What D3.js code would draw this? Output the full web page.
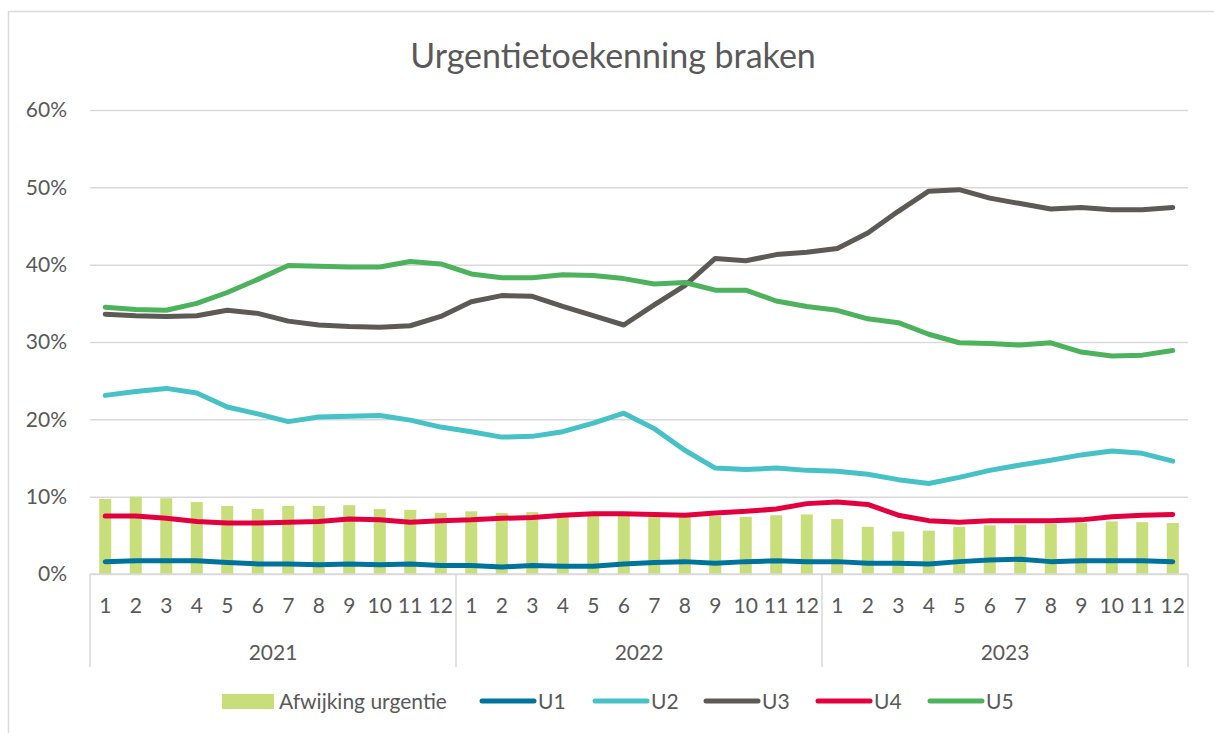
<!DOCTYPE html>
<html>
<head>
<meta charset="utf-8">
<script src="https://cdn.jsdelivr.net/npm/d3@7"></script>
<style>
  body { margin: 0; background: #fff; }
  svg text { font-family: Lato, "Open Sans", sans-serif; fill: #595959; }
</style>
</head>
<body>
<div id="chart"></div>
<script>

// data
var years = ["2021", "2022", "2023"];
var months = ["1","2","3","4","5","6","7","8","9","10","11","12"];
var yTicks = [0, 0.1, 0.2, 0.3, 0.4, 0.5, 0.6];

var afwijking = [9.7, 10.0, 9.8, 9.3, 8.8, 8.4, 8.8, 8.8, 8.9, 8.4, 8.3, 7.9,
                 8.1, 7.9, 8.0, 7.6, 7.6, 7.6, 7.6, 7.5, 7.5, 7.4, 7.6, 7.7,
                 7.1, 6.1, 5.5, 5.6, 6.1, 6.3, 6.4, 6.5, 6.6, 6.8, 6.7, 6.6];
var u1 = [1.6, 1.7, 1.7, 1.7, 1.5, 1.3, 1.3, 1.2, 1.3, 1.2, 1.3, 1.1,
          1.1, 0.9, 1.1, 1.0, 1.0, 1.3, 1.5, 1.6, 1.4, 1.6, 1.7, 1.6,
          1.6, 1.4, 1.4, 1.3, 1.6, 1.8, 1.9, 1.6, 1.7, 1.7, 1.7, 1.6];
var u2 = [23.1, 23.6, 24.0, 23.4, 21.6, 20.7, 19.7, 20.3, 20.4, 20.5, 19.9, 19.0,
          18.4, 17.7, 17.8, 18.4, 19.5, 20.8, 18.8, 16.0, 13.7, 13.5, 13.7, 13.4,
          13.3, 12.9, 12.2, 11.7, 12.5, 13.4, 14.1, 14.7, 15.4, 15.9, 15.6, 14.6];
var u3 = [33.6, 33.4, 33.3, 33.4, 34.1, 33.7, 32.7, 32.2, 32.0, 31.9, 32.1, 33.3,
          35.2, 36.0, 35.9, 34.6, 33.4, 32.2, 34.8, 37.3, 40.8, 40.5, 41.3, 41.6,
          42.1, 44.1, 46.9, 49.5, 49.7, 48.6, 47.9, 47.2, 47.4, 47.1, 47.1, 47.4];
var u4 = [7.5, 7.5, 7.2, 6.8, 6.6, 6.6, 6.7, 6.8, 7.1, 7.0, 6.7, 6.9,
          7.0, 7.2, 7.3, 7.6, 7.8, 7.8, 7.7, 7.6, 7.9, 8.1, 8.4, 9.1,
          9.3, 9.0, 7.6, 6.9, 6.7, 6.9, 6.9, 6.9, 7.0, 7.4, 7.6, 7.7];
var u5 = [34.5, 34.2, 34.1, 35.0, 36.4, 38.1, 39.9, 39.8, 39.7, 39.7, 40.4, 40.1,
          38.8, 38.3, 38.3, 38.7, 38.6, 38.2, 37.5, 37.7, 36.7, 36.7, 35.3, 34.6,
          34.1, 33.0, 32.5, 31.0, 29.9, 29.8, 29.6, 29.9, 28.7, 28.2, 28.3, 28.9];

var seriesNames = ["U1", "U2", "U3", "U4", "U5"];
var seriesData = [u1, u2, u3, u4, u5];
var colors = ["#00739c", "#46c1c6", "#5d5955", "#e3003f", "#4cb25c"];
var barColor = "#c8de7a";

var W = 1214, H = 733;
var margin = {top: 110, right: 26, bottom: 159, left: 90},
    width = W - margin.left - margin.right,
    height = H - margin.top - margin.bottom;

var svg = d3.select("#chart")
  .append("svg")
    .attr("width", W)
    .attr("height", H);

// chart frame
svg.append("rect")
  .attr("x", 8.5).attr("y", 11.5)
  .attr("width", W + 20).attr("height", H + 20)
  .attr("fill", "none")
  .attr("stroke", "#d9d9d9")
  .attr("stroke-width", 1.5);

svg.append("text")
  .attr("x", 613).attr("y", 68)
  .attr("text-anchor", "middle")
  .style("font-size", "34px")
  .text("Urgentietoekenning braken");

var g = svg.append("g")
  .attr("transform", "translate(" + margin.left + "," + margin.top + ")");

// categories: year-month
var cats = [];
years.forEach(function(y) { months.forEach(function(m) { cats.push(y + "-" + m); }); });

var x = d3.scaleBand()
  .domain(cats)
  .range([0, width]);

var y = d3.scaleLinear()
  .domain([0, 0.6])
  .range([height, 0]);

// gridlines + y labels
var yAxis = g.append("g")
  .call(d3.axisLeft(y).tickValues(yTicks).tickFormat(d3.format(".0%")).tickSize(-width).tickPadding(23));
yAxis.select(".domain").remove();
yAxis.selectAll("line").attr("stroke", "#d9d9d9").attr("stroke-width", 1.5);
yAxis.selectAll("text").style("font-size", "21px").style("font-family", "Lato, sans-serif").attr("fill", "#595959");

// bars
g.selectAll(".bar")
  .data(afwijking)
  .enter()
  .append("rect")
    .attr("class", "bar")
    .attr("x", function(d, i) { return x(cats[i]) + x.bandwidth() / 2 - 6; })
    .attr("width", 12)
    .attr("y", function(d) { return y(d / 100); })
    .attr("height", function(d) { return height - y(d / 100); })
    .attr("fill", barColor);

// category axis
var axisG = g.append("g").attr("transform", "translate(0," + height + ")");
axisG.append("line")
  .attr("x1", 0).attr("x2", width)
  .attr("stroke", "#d9d9d9").attr("stroke-width", 1.5);
[0, 12, 24, 36].forEach(function(k) {
  var xx = k < 36 ? x(cats[k]) : width;
  axisG.append("line")
    .attr("x1", xx).attr("x2", xx)
    .attr("y1", 0).attr("y2", 93)
    .attr("stroke", "#d9d9d9").attr("stroke-width", 1.5);
});
axisG.selectAll(".month")
  .data(cats)
  .enter()
  .append("text")
    .attr("x", function(d) { return x(d) + x.bandwidth() / 2; })
    .attr("y", 39)
    .attr("text-anchor", "middle")
    .style("font-size", "21px")
    .text(function(d) { return d.split("-")[1]; });
axisG.selectAll(".year")
  .data(years)
  .enter()
  .append("text")
    .attr("x", function(d, i) { return (x(years[i] + "-1") + x(years[i] + "-12") + x.bandwidth()) / 2; })
    .attr("y", 86)
    .attr("text-anchor", "middle")
    .style("font-size", "21px")
    .text(function(d) { return d; });

// lines
var line = d3.line()
  .x(function(d, i) { return x(cats[i]) + x.bandwidth() / 2; })
  .y(function(d) { return y(d / 100); });

// draw order: U1..U5
seriesData.forEach(function(s, k) {
  g.append("path")
    .datum(s)
    .attr("fill", "none")
    .attr("stroke", colors[k])
    .attr("stroke-width", 5)
    .attr("stroke-linejoin", "round")
    .attr("stroke-linecap", "round")
    .attr("d", line);
});

// legend
var leg = svg.append("g").attr("transform", "translate(0,701)");
leg.append("rect")
  .attr("x", 222).attr("y", -7)
  .attr("width", 52).attr("height", 15)
  .attr("fill", barColor);
leg.append("text")
  .attr("x", 279).attr("y", 8)
  .style("font-size", "21px")
  .text("Afwijking urgentie");

var legX = [482, 595, 706, 818, 930];
seriesNames.forEach(function(n, k) {
  leg.append("line")
    .attr("x1", legX[k]).attr("x2", legX[k] + 52)
    .attr("stroke", colors[k])
    .attr("stroke-width", 5)
    .attr("stroke-linecap", "round");
  leg.append("text")
    .attr("x", legX[k] + 56).attr("y", 8)
    .style("font-size", "21px")
    .text(n);
});

</script>
</body>
</html>
